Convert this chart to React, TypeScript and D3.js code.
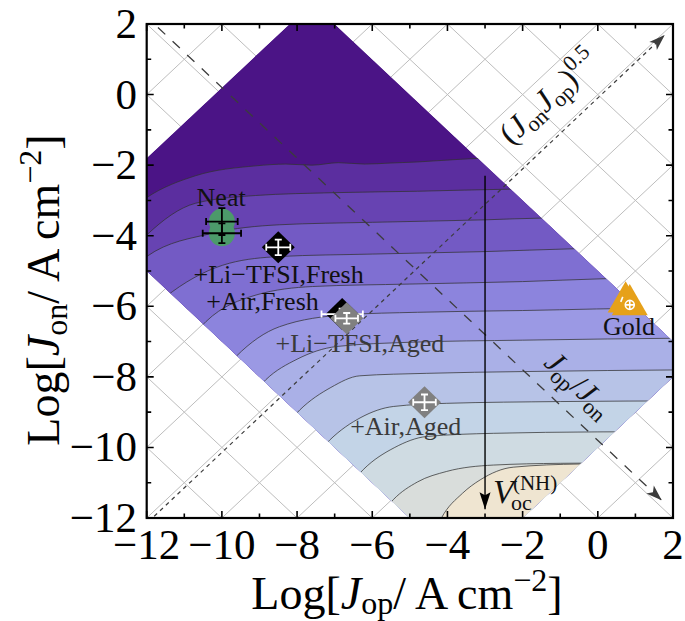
import React from 'react';
import * as d3 from 'd3';

// axis ticks (Log J, A cm^-2)
const majorTicks = [-12, -10, -8, -6, -4, -2, 0, 2];
const minorTicks = [-11, -9, -7, -5, -3, -1, 1];

// diagonal guide grid: x + y = const and y - x = const
const gridSums = [-24, -22, -20, -18, -16, -14, -12, -10, -8, -6, -4, -2, 0, 2, 4];
const gridDiffs = [-14, -12, -10, -8, -6, -4, -2, 0, 2, 4, 6, 8, 10, 12, 14];

// corners of the area where the V_oc map was computed [logJop, logJon]
const regionCorners: [number, number][] = [
  [-12, -5], [-12, -1.8], [-8.2, 2], [-7, 2], [2, -7], [2, -8], [-2, -12], [-5, -12],
];

// contour lines, top to bottom [logJop, logJon]
const contour1: [number, number][] = [[-12.3, -3.15], [-12, -2.92], [-10.7, -2.3], [-9.1, -2.02], [-8.3, -1.97], [-7.6, -2.0], [-6.9, -1.93], [-6.2, -1.97], [-5.5, -1.94], [-4.8, -1.91], [-4.2, -1.87], [-3.6, -1.83], [-2, -1.78], [2.5, -1.78]];
const contour2: [number, number][] = [[-12.3, -4.3], [-12, -3.98], [-10.7, -3.08], [-9.1, -2.86], [-7, -2.78], [-4.8, -2.74], [-2.3, -2.68], [2.5, -2.65]];
const contour3: [number, number][] = [[-12.3, -4.95], [-12, -4.59], [-10.25, -3.93], [-8.47, -3.69], [-6, -3.62], [-3, -3.55], [-1.45, -3.5], [2.5, -3.48]];
const contour4: [number, number][] = [[-11.8, -6.0], [-11.31, -5.58], [-9.8, -4.78], [-8.47, -4.59], [-6, -4.52], [-3, -4.45], [-0.65, -4.37], [2.5, -4.33]];
const contour5: [number, number][] = [[-10.9, -7.0], [-10.42, -6.43], [-9.09, -5.68], [-7.59, -5.44], [-5, -5.37], [-2, -5.3], [0.14, -5.22], [2.5, -5.18]];
const contour6: [number, number][] = [[-10.1, -8.0], [-9.62, -7.42], [-8.47, -6.58], [-6.7, -6.24], [-4.8, -6.17], [-2, -6.12], [1.92, -6.05], [2.5, -6.05]];
const contour7: [number, number][] = [[-9.3, -8.65], [-8.83, -8.08], [-8.0, -7.5], [-6.95, -7.14], [-5, -7.02], [-2, -6.96], [2.5, -6.9]];
const contour8: [number, number][] = [[-8.4, -9.5], [-7.92, -8.93], [-7.1, -8.3], [-6.33, -7.97], [-4.55, -7.9], [-2, -7.85], [2.5, -7.8]];
const contour9: [number, number][] = [[-7.6, -10.35], [-7.12, -9.78], [-6.3, -9.15], [-5.44, -8.84], [-4.02, -8.75], [-1, -8.7], [2.5, -8.68]];
const contour10: [number, number][] = [[-6.7, -11.2], [-6.24, -10.63], [-5.4, -10.0], [-4.55, -9.69], [-2.78, -9.6], [0, -9.56], [2.5, -9.55]];
const contour11: [number, number][] = [[-5.9, -12.1], [-5.44, -11.48], [-4.8, -10.98], [-4.02, -10.68], [-2.78, -10.5], [-1, -10.45], [2.5, -10.43]];
const beigeEdge: [number, number][] = [[-4.3, -12.3], [-4.16, -12.0], [-3.6, -11.3], [-3.13, -10.92], [-2.25, -10.56], [-0.47, -10.47], [2.5, -10.45]];
const contours = [contour1, contour2, contour3, contour4, contour5, contour6, contour7, contour8, contour9, contour10, contour11];

// band colours, darkest (top) to lightest
const bandColors = ['#4b1486', '#5b2e9f', '#6743b2', '#735ac4', '#7f6fd2', '#8c84dd', '#9b99e4', '#aab0e7', '#b7c3e7', '#c3d4e7', '#cfdbe2', '#d9dddb'];
const beigeColor = '#efe5d1';

// guide lines
const ratioLine: [number, number][] = [[-11.7, 1.9], [1.7, -11.5]];
const meanLine: [number, number][] = [[-11.8, -11.95], [1.78, 1.69]];
const vocLine: [number, number][] = [[-3, -2.3], [-3, -11.75]];

// measured samples
const sampleNames = ['Neat', '+Li\u2212TFSI,Fresh', '+Air,Fresh', '+Li\u2212TFSI,Aged', '+Air,Aged', 'Gold'];
const pointGroup = [0, 0, 1, 2, 3, 4, 5, 5];
const pointJop = [-10.0, -10.0, -8.5, -6.8, -6.68, -4.61, 0.74, 0.85];
const pointJon = [-3.6, -3.93, -4.33, -6.22, -6.34, -8.72, -5.88, -5.96];
const pointErrJop = [0.42, 0.51, 0.32, 0.55, 0.3, 0.3, 0.1, 0.1];
const pointErrJon = [0.38, 0.28, 0.22, 0.15, 0.15, 0.22, 0.08, 0.08];
// label anchors [logJop, logJon]
const labelJop = [-10.02, -8.49, -8.92, -6.33, -5.11, 0.83];
const labelJon = [-3.16, -5.34, -6.1, -7.29, -9.64, -6.81];

const FONT = "'Liberation Serif', 'Times New Roman', serif";

export default function App() {
  const x = d3.scaleLinear().domain([-12, 2]).range([146.7, 673]);
  const y = d3.scaleLinear().domain([-12, 2]).range([518, 24]);
  const curve = d3.line<[number, number]>().x(d => x(d[0])).y(d => y(d[1])).curve(d3.curveMonotoneX);
  const below = d3.area<[number, number]>().x(d => x(d[0])).y0(y(-14)).y1(d => y(d[1])).curve(d3.curveMonotoneX);
  const straight = d3.line<[number, number]>().x(d => x(d[0])).y(d => y(d[1]));

  const regionPath = straight(regionCorners) + 'Z';
  const [x0, x1] = x.range();
  const [y0, y1] = y.range();

  const groupStyle = [
    { shape: 'circle', fill: '#4c9a6a', bar: '#000' },
    { shape: 'diamond', fill: '#000', bar: '#fff' },
    { shape: 'diamond', fill: '#000', bar: '#fff' },
    { shape: 'diamond', fill: '#808080', bar: '#fff' },
    { shape: 'diamond', fill: '#808080', bar: '#fff' },
    { shape: 'triangle', fill: '#e6a11a', bar: '#fff' },
  ];
  const labelColor = ['#111', '#111', '#111', '#3a3a3a', '#3a3a3a', '#111'];
  const tri = d3.symbol(d3.symbolTriangle, 560)() as string;

  const errorBars = (i: number, color: string) => {
    const cx = x(pointJop[i]), cy = y(pointJon[i]);
    const xl = x(pointJop[i] - pointErrJop[i]), xr = x(pointJop[i] + pointErrJop[i]);
    const yt = y(pointJon[i] + pointErrJon[i]), yb = y(pointJon[i] - pointErrJon[i]);
    const c = 3.5;
    return (
      <g stroke={color} strokeWidth={1.8} fill="none">
        <path d={`M${xl},${cy}H${xr}M${xl},${cy - c}V${cy + c}M${xr},${cy - c}V${cy + c}`} />
        <path d={`M${cx},${yt}V${yb}M${cx - c},${yt}H${cx + c}M${cx - c},${yb}H${cx + c}`} />
      </g>
    );
  };

  const marker = (i: number) => {
    const st = groupStyle[pointGroup[i]];
    const cx = x(pointJop[i]), cy = y(pointJon[i]);
    if (st.shape === 'circle') return <circle cx={cx} cy={cy} r={13} fill={st.fill} />;
    if (st.shape === 'diamond') return <path d={`M${cx},${cy - 16}L${cx + 16.5},${cy}L${cx},${cy + 16}L${cx - 16.5},${cy}Z`} fill={st.fill} />;
    return <path d={tri} transform={`translate(${cx},${cy})`} fill={st.fill} />;
  };

  const gx = x(pointJop[7]), gy = y(pointJon[7]);

  return (
    <svg width={685} height={621} style={{ position: 'absolute', left: 0, top: 0, background: '#fff' }} fontFamily={FONT}>
      <defs>
        <clipPath id="plot"><rect x={x0} y={y1} width={x1 - x0} height={y0 - y1} /></clipPath>
        <clipPath id="region"><path d={regionPath} /></clipPath>
        <marker id="headGray" viewBox="-18 -7 20 14" refX={0} refY={0} markerWidth={20} markerHeight={14} markerUnits="userSpaceOnUse" orient="auto">
          <path d="M0,0L-16,-5.5L-12,0L-16,5.5Z" fill="#3c3c3c" />
        </marker>
        <marker id="headBlack" viewBox="-18 -7 20 14" refX={0} refY={0} markerWidth={20} markerHeight={14} markerUnits="userSpaceOnUse" orient="auto">
          <path d="M0,0L-17,-5.5L-14,0L-17,5.5Z" fill="#000" />
        </marker>
      </defs>

      {/* diagonal grid */}
      <g clipPath="url(#plot)" stroke="#bdbdbd" strokeWidth={1}>
        {gridSums.map(c => (
          <path key={'s' + c} d={straight([[-14, c + 14], [4, c - 4]]) as string} />
        ))}
        {gridDiffs.map(c => (
          <path key={'d' + c} d={straight([[-14, c - 14], [4, c + 4]]) as string} />
        ))}
      </g>

      {/* filled contour map */}
      <g clipPath="url(#region)">
        <path d={regionPath} fill={bandColors[0]} />
        {contours.map((c, i) => (
          <path key={'b' + i} d={below(c) as string} fill={bandColors[i + 1]} />
        ))}
        <path d={below(beigeEdge) as string} fill={beigeColor} />
        <g fill="none" stroke="#333" strokeOpacity={0.75} strokeWidth={1}>
          {contours.map((c, i) => (
            <path key={'c' + i} d={curve(c) as string} />
          ))}
          <path d={curve(beigeEdge) as string} />
        </g>
      </g>

      {/* guide lines */}
      <path d={straight(meanLine) as string} stroke="#3c3c3c" strokeWidth={1.2} strokeDasharray="4,4" fill="none" markerEnd="url(#headGray)" />
      <path d={straight(ratioLine) as string} stroke="#3c3c3c" strokeWidth={1.3} strokeDasharray="10,10" fill="none" markerEnd="url(#headGray)" />
      <path d={straight(vocLine) as string} stroke="#000" strokeWidth={1.4} fill="none" markerEnd="url(#headBlack)" />

      {/* samples: Neat discs first, then its bars; others marker + bars in order */}
      {pointGroup.map((g, i) => (g === 0 ? <g key={'n' + i}>{marker(i)}</g> : null))}
      {pointGroup.map((g, i) => (g === 0 ? <g key={'nb' + i}>{errorBars(i, groupStyle[0].bar)}</g> : null))}
      {pointGroup.map((g, i) => (g === 0 ? null : (
        <g key={'m' + i}>
          {marker(i)}
          {g === 5 ? null : errorBars(i, groupStyle[g].bar)}
        </g>
      )))}
      {/* gold marker: small white crosshair */}
      <g stroke="#fff" strokeWidth={1.6} fill="none">
        <circle cx={gx} cy={gy} r={4.5} />
        <path d={`M${gx - 4.5},${gy}h9M${gx},${gy - 4.5}v9`} />
        <path d={`M${gx - 9},${gy - 3}l2,-5`} />
      </g>

      {sampleNames.map((n, i) => (
        <text key={'l' + i} x={x(labelJop[i])} y={y(labelJon[i])} textAnchor="middle" fontSize={26} fill={labelColor[i]}>{n}</text>
      ))}

      {/* annotations */}
      <text transform={`translate(${x(-1.12)},${y(-0.28)}) rotate(-43.2)`} textAnchor="middle" fontSize={32} fill="#111">
        (<tspan fontStyle="italic">J</tspan><tspan fontSize={22} dy={6}>on</tspan><tspan fontStyle="italic" dy={-6}>J</tspan><tspan fontSize={22} dy={6}>op</tspan><tspan dy={-6}>)</tspan><tspan fontSize={22} dy={-13}>0.5</tspan>
      </text>
      <text transform={`translate(${x(-0.69)},${y(-8.42)}) rotate(43.2)`} textAnchor="middle" fontSize={31} fill="#111">
        <tspan fontStyle="italic">J</tspan><tspan fontSize={22} dy={6}>op</tspan><tspan dy={-6}>/</tspan><tspan fontStyle="italic">J</tspan><tspan fontSize={22} dy={6}>on</tspan>
      </text>
      <text x={x(-2.79)} y={y(-11.57)} fontSize={34} fontStyle="italic" fill="#111">V</text>
      <text x={x(-2.79) + 18} y={y(-11.57) + 7} fontSize={22} fill="#111">oc</text>
      <text x={x(-2.79) + 20} y={y(-11.57) - 13} fontSize={21} fill="#111">(NH)</text>

      {/* frame and ticks */}
      <g stroke="#000" strokeWidth={1.6}>
        {majorTicks.map(t => (
          <path key={'mx' + t} d={`M${x(t)},${y0}v-7M${x(t)},${y1}v7M${x0},${y(t)}h7M${x1},${y(t)}h-7`} />
        ))}
        {minorTicks.map(t => (
          <path key={'nx' + t} d={`M${x(t)},${y0}v-4.5M${x(t)},${y1}v4.5M${x0},${y(t)}h4.5M${x1},${y(t)}h-4.5`} />
        ))}
      </g>
      <rect x={x0} y={y1} width={x1 - x0} height={y0 - y1} fill="none" stroke="#000" strokeWidth={2.2} />

      {majorTicks.map(t => (
        <text key={'tx' + t} x={x(t)} y={559} textAnchor="middle" fontSize={43} fill="#000">{t < 0 ? '\u2212' + Math.abs(t) : t}</text>
      ))}
      {majorTicks.map(t => (
        <text key={'ty' + t} x={137} y={y(t) + 14} textAnchor="end" fontSize={43} fill="#000">{t < 0 ? '\u2212' + Math.abs(t) : t}</text>
      ))}

      {/* axis titles */}
      <text x={407} y={609} textAnchor="middle" fontSize={46} fill="#000">
        Log[<tspan fontStyle="italic">J</tspan><tspan fontSize={32} dy={5}>op</tspan><tspan dy={-5}>/ A cm</tspan><tspan fontSize={32} dy={-18}>{'\u22122'}</tspan><tspan dy={18}>]</tspan>
      </text>
      <text transform="translate(59,290) rotate(-90)" textAnchor="middle" fontSize={46} fill="#000">
        Log[<tspan fontStyle="italic">J</tspan><tspan fontSize={32} dy={8}>on</tspan><tspan dy={-8}>/ A cm</tspan><tspan fontSize={32} dy={-18}>{'\u22122'}</tspan><tspan dy={18}>]</tspan>
      </text>
    </svg>
  );
}
